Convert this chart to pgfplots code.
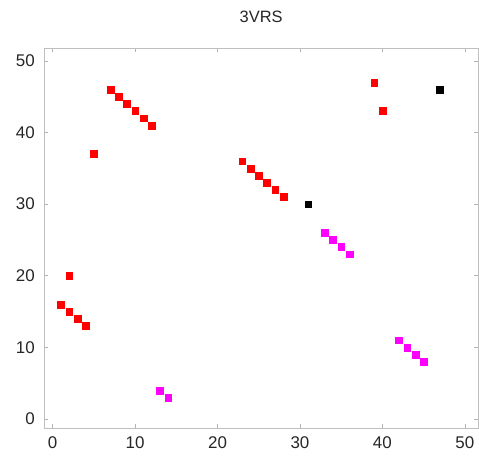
\documentclass[border=0pt]{standalone}
\usepackage{fontspec}
\setmainfont{Liberation Sans}
\usepackage{pgfplots}
\pgfplotsset{compat=1.18}
\definecolor{mag}{RGB}{255,0,255}
\begin{document}
\begin{tikzpicture}[x=1bp,y=1bp]
\begin{axis}[
  at={(0,0)}, anchor=south west,
  scale only axis, width=433.7bp, height=380bp,
  xmin=-1.02, xmax=51.6, ymin=-1.26, ymax=51.8,
  xtick={0,10,...,50}, ytick={0,10,...,50},
  axis line style={draw=black!25},
  tick style={draw=black!30, line width=0.6pt},
  major tick length=4bp, tick align=inside,
  ticklabel style={font=\fontsize{17}{17}\selectfont, text=black!85},
  xticklabel style={yshift=-5.5bp},
  yticklabel style={xshift=-6bp},
  /pgf/number format/assume math mode=true,
  title={3VRS},
  title style={at={(0.5,1)}, anchor=center, yshift=25.5bp, font=\fontsize{16.5}{16.5}\selectfont, text=black!85},
  every axis plot/.append style={only marks, mark=square*, mark size=3.4bp, line width=0.4pt},
]
\addplot[color=red, mark options={solid, fill=red, draw=red}] coordinates {
(1,16) (2,15) (3,14) (4,13) (2,20) (5,37)
(7,46) (8,45) (9,44) (10,43) (11,42) (12,41)
(23,36) (24,35) (25,34) (26,33) (27,32) (28,31)
(39,47) (40,43)
};
\addplot[color=mag, mark options={solid, fill=mag, draw=mag}] coordinates {
(13,4) (14,3) (33,26) (34,25) (35,24) (36,23)
(42,11) (43,10) (44,9) (45,8)
};
\addplot[color=black, mark options={solid, fill=black, draw=black}] coordinates {
(31,30) (47,46)
};
\end{axis}
\pgfresetboundingbox
\useasboundingbox (-44.3,-29) rectangle (434.7,428);
\end{tikzpicture}
\end{document}
